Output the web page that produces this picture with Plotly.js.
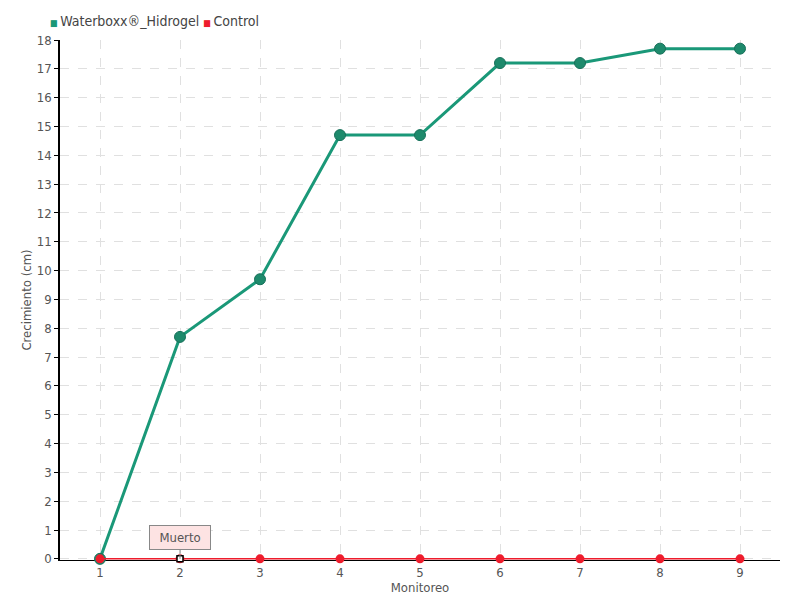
<!DOCTYPE html>
<html><head><meta charset="utf-8">
<script src="https://cdn.plot.ly/plotly-3.0.1.min.js"></script>
<style>body{margin:0;background:#fff}#c{width:800px;height:600px}</style>
</head><body><div id="c"></div>
<script>
const monitoreo = [1,2,3,4,5,6,7,8,9];
const waterboxx = [0,7.7,9.7,14.7,14.7,17.2,17.2,17.7,17.7];
const control = [0,0,0,0,0,0,0,0,0];
const seriesNames = ['Waterboxx®_Hidrogel','Control'];
const annotX = 2, annotY = 0, annotText = 'Muerto';
const FONT = '"DejaVu Sans Condensed","Liberation Sans Narrow",sans-serif';
const green = '#1a9878', red = '#ee1c2c';
const traces = [
 {x: monitoreo, y: waterboxx, mode:'lines+markers', name: seriesNames[0], showlegend:false, cliponaxis:false,
  line:{color:green, width:3}, marker:{color:'#1e8a6c', size:11, line:{color:'#17705a', width:1}}},
 {x: monitoreo, y: control, mode:'lines+markers', name: seriesNames[1], showlegend:false, cliponaxis:false,
  line:{color:red, width:1.5}, marker:{color:red, size:9}},
 {x:[annotX], y:[annotY], mode:'markers', showlegend:false, hoverinfo:'skip', cliponaxis:false,
  marker:{symbol:'square', size:6, color:'#fff', line:{color:'#000', width:1.5}}}
];
const legendText = '<span style="color:'+green+';font-size:9px">■ </span>' + seriesNames[0] +
  ' <span style="color:'+red+';font-size:9px">■ </span>' + seriesNames[1];
const layout = {
 width:800, height:600, margin:{l:60, r:20, t:40, b:40},
 paper_bgcolor:'#fff', plot_bgcolor:'#fff',
 font:{family:FONT, color:'#555', size:14},
 showlegend:false,
 xaxis:{range:[0.5,9.5], tickvals:monitoreo, ticktext:monitoreo.map(String), showline:true, linecolor:'#000', linewidth:1,
   showgrid:true, gridcolor:'#e0e0e0', griddash:'dash', zeroline:false, ticks:'', ticklen:0, layer:'below traces',
   tickfont:{size:13, color:'#555'}, title:{text:'Monitoreo', font:{size:13, color:'#555'}, standoff:0}},
 yaxis:{range:[-0.04,18], tickvals:[0,1,2,3,4,5,6,7,8,9,10,11,12,13,14,15,16,17,18], showline:true, linecolor:'#000', linewidth:1.5, layer:'below traces',
   showgrid:true, gridcolor:'#e0e0e0', griddash:'dash', zeroline:false, ticks:'outside', ticklen:4, tickcolor:'#000',
   tickfont:{size:13, color:'#555'}, title:{text:'Crecimiento (cm)', font:{size:13, color:'#555'}, standoff:2}},
 annotations:[
  {x:annotX, y:annotY, xref:'x', yref:'y', text:annotText, showarrow:true, arrowhead:0, arrowwidth:1,
   arrowcolor:'#888', ax:0, ay:-21, bgcolor:'#fde3e3', bordercolor:'#888', borderwidth:1, borderpad:4,
   font:{size:13, color:'#555'}, width:52},
  {x:(48-60)/720, y:1 + (40-21)/520, xref:'paper', yref:'paper', text:legendText, showarrow:false, xanchor:'left', yanchor:'middle',
   font:{size:14, color:'#444'}}
 ]
};
Plotly.newPlot('c', traces, layout, {displayModeBar:false});
</script></body></html>
